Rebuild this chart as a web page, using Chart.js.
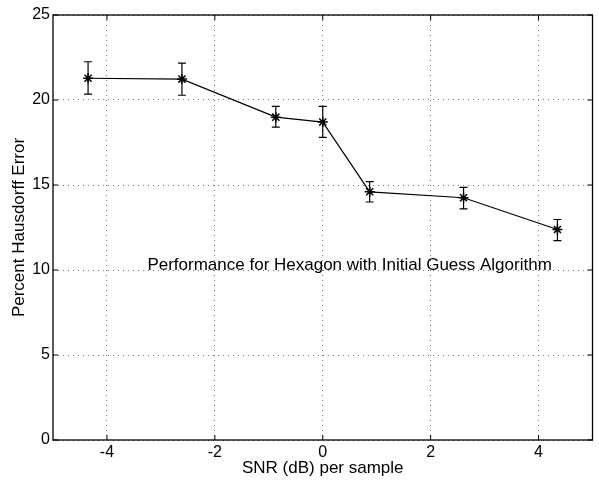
<!DOCTYPE html>
<html>
<head>
<meta charset="utf-8">
<script src="https://cdn.jsdelivr.net/npm/chart.js@4"></script>
<style>
  html, body { margin: 0; padding: 0; background: #fff; }
  #wrap { width: 599px; height: 482px; }
</style>
</head>
<body>
<div id="wrap"><canvas id="perfChart" width="599" height="482"></canvas></div>
<script>
// data
const snr = [-4.35, -2.61, -0.87, 0, 0.87, 2.61, 4.35];
const hausdorffErr = [21.28, 21.23, 18.99, 18.7, 14.6, 14.25, 12.38];
const errHigh = [22.25, 22.17, 19.63, 19.63, 15.2, 14.86, 12.97];
const errLow = [20.35, 20.28, 18.4, 17.8, 14.0, 13.6, 11.73];
const xTicks = [-4, -2, 0, 2, 4];
const yTicks = [0, 5, 10, 15, 20, 25];
const noteText = 'Performance for Hexagon with Initial Guess Algorithm';

const FONT = 'Liberation Sans, Arial, Helvetica, sans-serif';

// error bars with small caps
const errorBars = {
    id: 'errorBars',
    afterDatasetsDraw(chart) {
        const ctx = chart.ctx;
        const xs = chart.scales.x, ys = chart.scales.y;
        ctx.save();
        ctx.strokeStyle = '#000';
        ctx.lineWidth = 1.2;
        for (let i = 0; i < snr.length; i++) {
            const px = xs.getPixelForValue(snr[i]);
            const top = ys.getPixelForValue(errHigh[i]);
            const bot = ys.getPixelForValue(errLow[i]);
            ctx.beginPath();
            ctx.moveTo(px, top); ctx.lineTo(px, bot);
            ctx.moveTo(px - 4, top); ctx.lineTo(px + 4, top);
            ctx.moveTo(px - 4, bot); ctx.lineTo(px + 4, bot);
            ctx.stroke();
        }
        ctx.restore();
    }
};

// box around the plot, inward ticks on all sides, and the text note
const frame = {
    id: 'frame',
    afterDraw(chart) {
        const ctx = chart.ctx;
        const a = chart.chartArea;
        const xs = chart.scales.x, ys = chart.scales.y;
        ctx.save();
        ctx.strokeStyle = '#000';
        ctx.lineWidth = 1.3;
        ctx.strokeRect(a.left, a.top, a.right - a.left, a.bottom - a.top);
        ctx.lineWidth = 1;
        ctx.beginPath();
        xTicks.forEach(v => {
            const px = xs.getPixelForValue(v);
            ctx.moveTo(px, a.bottom); ctx.lineTo(px, a.bottom - 5);
            ctx.moveTo(px, a.top); ctx.lineTo(px, a.top + 5);
        });
        yTicks.forEach(v => {
            const py = ys.getPixelForValue(v);
            ctx.moveTo(a.left, py); ctx.lineTo(a.left + 5, py);
            ctx.moveTo(a.right, py); ctx.lineTo(a.right - 5, py);
        });
        ctx.stroke();

        ctx.fillStyle = '#000';
        ctx.font = '17px ' + FONT;
        ctx.textBaseline = 'middle';
        ctx.textAlign = 'left';
        ctx.fillText(noteText, xs.getPixelForValue(-3.25), ys.getPixelForValue(10.25));
        ctx.restore();
    }
};

new Chart(document.getElementById('perfChart'), {
    type: 'scatter',
    data: {
        datasets: [{
            data: snr.map((x, i) => ({ x: x, y: hausdorffErr[i] })),
            showLine: true,
            borderColor: '#000',
            borderWidth: 1.2,
            backgroundColor: '#000',
            pointStyle: 'star',
            pointRadius: 5,
            pointBorderWidth: 1.5,
            pointBorderColor: '#000'
        }]
    },
    options: {
        responsive: false,
        animation: false,
        layout: { padding: { top: 15, right: 4, left: 0, bottom: 0 } },
        plugins: {
            legend: { display: false },
            tooltip: { enabled: false }
        },
        scales: {
            x: {
                type: 'linear',
                min: -5,
                max: 5,
                afterBuildTicks: s => { s.ticks = xTicks.map(v => ({ value: v })); },
                afterFit: s => { s.height = 42; },
                grid: { color: '#777', drawTicks: false, lineWidth: 1 },
                border: { display: false, dash: [1, 4] },
                ticks: { color: '#000', padding: 3, font: { family: FONT, size: 16 } },
                title: {
                    display: true,
                    text: 'SNR (dB) per sample',
                    color: '#000',
                    font: { family: FONT, size: 17 },
                    padding: { top: 0, bottom: 3 }
                }
            },
            y: {
                min: 0,
                max: 25,
                afterBuildTicks: s => { s.ticks = yTicks.map(v => ({ value: v })); },
                afterFit: s => { s.width = 53; },
                grid: { color: '#777', drawTicks: false, lineWidth: 1 },
                border: { display: false, dash: [1, 4] },
                ticks: { color: '#000', padding: 3, font: { family: FONT, size: 16 } },
                title: {
                    display: true,
                    text: 'Percent Hausdorff Error',
                    color: '#000',
                    font: { family: FONT, size: 17 },
                    padding: { top: 9, bottom: 0 }
                }
            }
        }
    },
    plugins: [errorBars, frame]
});
</script>
</body>
</html>
